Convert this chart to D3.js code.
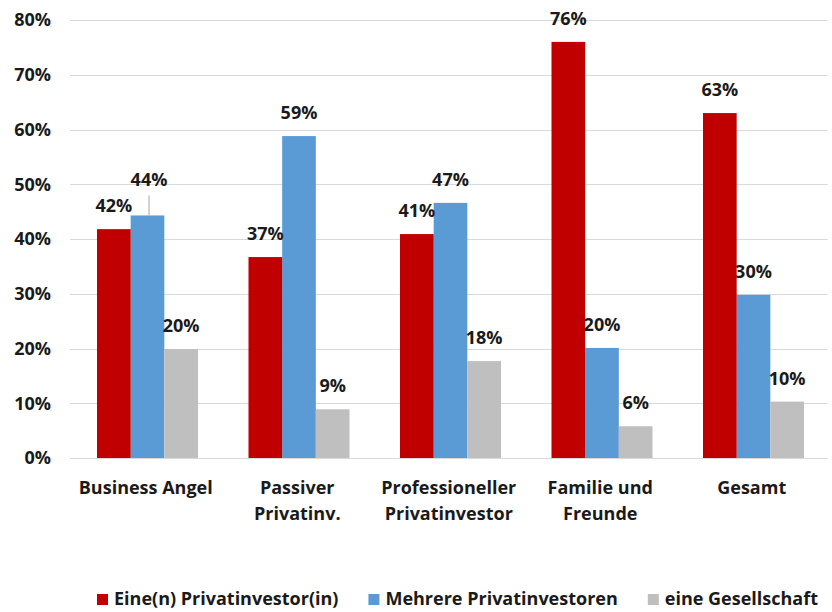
<!DOCTYPE html>
<html>
<head>
<meta charset="utf-8">
<script src="https://cdn.jsdelivr.net/npm/d3@7"></script>
<style>
  html, body { margin: 0; padding: 0; background: #fff; }
  svg { display: block; }
  text { font-family: "Open Sans", "Liberation Sans", sans-serif; font-weight: 700; fill: #1a1a1a; }
</style>
</head>
<body>
<svg id="chart" width="832" height="612"></svg>
<script>
// ---- data ----
const categories = ["Business Angel", "Passiver Privatinv.", "Professioneller Privatinvestor", "Familie und Freunde", "Gesamt"];
const categoryLines = [["Business Angel"], ["Passiver", "Privatinv."], ["Professioneller", "Privatinvestor"], ["Familie und", "Freunde"], ["Gesamt"]];
const seriesNames = ["Eine(n) Privatinvestor(in)", "Mehrere Privatinvestoren", "eine Gesellschaft"];
const einPrivatinvestor = [0.418, 0.367, 0.409, 0.760, 0.630];
const mehrerePrivatinvestoren = [0.443, 0.588, 0.466, 0.201, 0.298];
const eineGesellschaft = [0.199, 0.089, 0.177, 0.058, 0.103];
const yTicks = [0, 0.1, 0.2, 0.3, 0.4, 0.5, 0.6, 0.7, 0.8];
const colors = ["#c00000", "#5b9bd5", "#bfbfbf"];
// labels moved up with a leader line: [category index, series index]
const liftedLabels = [[0, 1]];

const seriesValues = [einPrivatinvestor, mehrerePrivatinvestoren, eineGesellschaft];

const svg = d3.select("#chart");
const y = d3.scaleLinear().domain([0, 0.8]).range([458, 20]);
const x0 = d3.scaleBand().domain(categories).range([70, 827.5]).padding(0);
const x1 = d3.scaleBand().domain(d3.range(3)).range([27, 128]).padding(0);
const fmt = d3.format(".0%");
const FS = "18px";

// gridlines
svg.append("g").selectAll("line").data(yTicks).join("line")
  .attr("x1", 70).attr("x2", 827.5)
  .attr("y1", d => Math.round(y(d)) + 0.5).attr("y2", d => Math.round(y(d)) + 0.5)
  .attr("stroke", "#d9d9d9").attr("stroke-width", 1);

// y-axis labels
svg.append("g").selectAll("text").data(yTicks).join("text")
  .attr("x", 51).attr("y", d => y(d)).attr("dy", "0.36em")
  .attr("text-anchor", "end").style("font-size", FS)
  .text(d => fmt(d));

const records = [];
categories.forEach((c, i) => {
  seriesValues.forEach((vals, s) => {
    const lifted = liftedLabels.some(l => l[0] === i && l[1] === s);
    records.push({ c, i, s, v: vals[i], lifted });
  });
});

function drawBars(g, data) {
  g.selectAll("rect").data(data).join("rect")
    .attr("x", d => x0(d.c) + x1(d.s))
    .attr("width", x1.bandwidth())
    .attr("y", d => y(d.v))
    .attr("height", d => y(0) - y(d.v))
    .attr("fill", d => colors[d.s]);
}
function drawLabels(g, data) {
  g.selectAll("line").data(data.filter(d => d.lifted)).join("line")
    .attr("x1", d => x0(d.c) + x1(d.s) + x1.bandwidth() / 2 + 1.5)
    .attr("x2", d => x0(d.c) + x1(d.s) + x1.bandwidth() / 2 + 1.5)
    .attr("y1", d => y(d.v) - 20).attr("y2", d => y(d.v))
    .attr("stroke", "#a6a6a6").attr("stroke-width", 1);
  g.selectAll("text").data(data).join("text")
    .attr("x", d => x0(d.c) + x1(d.s) + x1.bandwidth() / 2 + (d.lifted ? 1.5 : 0))
    .attr("y", d => y(d.v) - (d.lifted ? 29 : 17))
    .attr("text-anchor", "middle").style("font-size", FS)
    .text(d => fmt(d.v));
}

// draw order: blue & gray first, then red on top (matches overlap in reference)
const back = records.filter(d => d.s !== 0);
const front = records.filter(d => d.s === 0);
drawBars(svg.append("g"), back);
drawLabels(svg.append("g"), back);
drawBars(svg.append("g"), front);
drawLabels(svg.append("g"), front);

// baseline
svg.append("line").attr("x1", 70).attr("x2", 827.5)
  .attr("y1", Math.round(y(0)) + 0.5).attr("y2", Math.round(y(0)) + 0.5)
  .attr("stroke", "#d9d9d9");

// category labels
const catG = svg.append("g").selectAll("text").data(categories).join("text")
  .attr("x", d => x0(d) + x0.bandwidth() / 2)
  .attr("y", 494)
  .attr("text-anchor", "middle").style("font-size", FS);
catG.selectAll("tspan").data((d, i) => categoryLines[i]).join("tspan")
  .attr("x", function() { return this.parentNode.getAttribute("x"); })
  .attr("dy", (d, j) => j === 0 ? 0 : 26)
  .text(d => d);

// legend
const legend = svg.append("g");
const items = legend.selectAll("g").data(seriesNames).join("g");
items.append("rect").attr("width", 11).attr("height", 11).attr("y", 594)
  .attr("fill", (d, i) => colors[i]);
items.append("text").attr("x", 17).attr("y", 605).style("font-size", FS).text(d => d);
let xpos = 0;
const widths = [];
items.each(function() { widths.push(17 + this.querySelector("text").getComputedTextLength()); });
const gap = 30;
const total = d3.sum(widths) + gap * (widths.length - 1);
xpos = 457.5 - total / 2;
items.attr("transform", (d, i) => {
  const t = `translate(${xpos},0)`;
  xpos += widths[i] + gap;
  return t;
});
</script>
</body>
</html>
